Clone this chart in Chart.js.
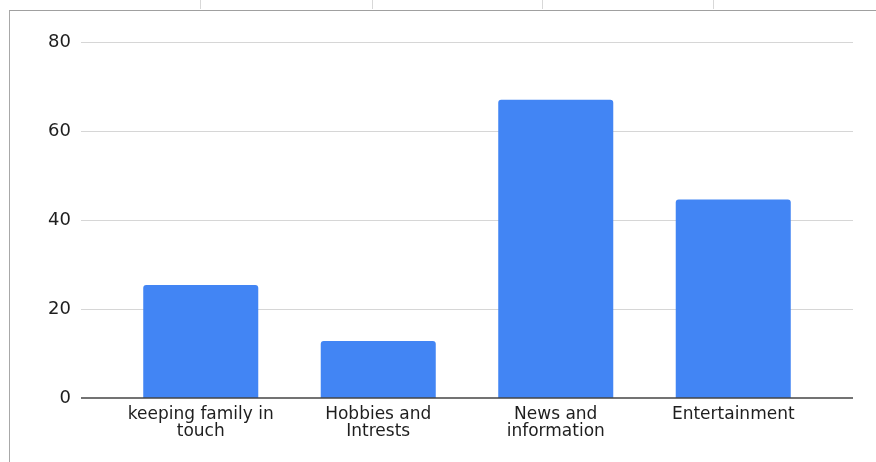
<!DOCTYPE html>
<html>
<head>
<meta charset="utf-8">
<script src="https://cdn.jsdelivr.net/npm/chart.js@4/dist/chart.umd.min.js"></script>
<style>
  html, body { margin: 0; padding: 0; background: #fff; }
  #wrap { position: relative; width: 876px; height: 462px; overflow: hidden; }
  #frame { position: absolute; left: 9px; top: 10px; width: 880px; height: 460px;
           border-left: 1.5px solid #a8a8a8; border-top: 1.5px solid #a0a0a0; }
  .col { position: absolute; top: 0; width: 1px; height: 9px; background: #d8d8d8; }
  canvas { position: absolute; left: 0; top: 0; }
</style>
</head>
<body>
<div id="wrap">
  <div id="frame"></div>
  <div class="col" style="left:200px"></div>
  <div class="col" style="left:372px"></div>
  <div class="col" style="left:542px"></div>
  <div class="col" style="left:713px"></div>
  <canvas id="c" width="876" height="462"></canvas>
</div>
<script>
// ---- data ----
const categories = [
  ['keeping family in', 'touch'],
  ['Hobbies and', 'Intrests'],
  ['News and', 'information'],
  ['Entertainment']
];
const values = [25.4, 12.8, 67, 44.6];
const yTicks = [0, 20, 40, 60, 80];

const gridPlugin = {
  id: 'extGrid',
  beforeDatasetsDraw(chart) {
    const {ctx, chartArea, scales} = chart;
    const ext = 31;
    ctx.save();
    ctx.strokeStyle = '#d6d6d6';
    ctx.lineWidth = 1;
    yTicks.forEach(v => {
      if (v === 0) return;
      const y = Math.round(scales.y.getPixelForValue(v)) + 0.5;
      ctx.beginPath();
      ctx.moveTo(chartArea.left - ext, y);
      ctx.lineTo(chartArea.right + ext, y);
      ctx.stroke();
    });
    ctx.restore();
  },
  afterDatasetsDraw(chart) {
    const {ctx, chartArea, scales} = chart;
    const ext = 31;
    const y = Math.round(scales.y.getPixelForValue(0));
    ctx.save();
    ctx.strokeStyle = '#444';
    ctx.lineWidth = 1.5;
    ctx.beginPath();
    ctx.moveTo(chartArea.left - ext, y);
    ctx.lineTo(chartArea.right + ext, y);
    ctx.stroke();
    ctx.restore();
  }
};

new Chart(document.getElementById('c'), {
  type: 'bar',
  data: {
    labels: categories,
    datasets: [{
      data: values,
      backgroundColor: '#4285F4',
      borderWidth: 0,
      borderRadius: {topLeft: 3, topRight: 3, bottomLeft: 0, bottomRight: 0},
      borderSkipped: 'bottom',
      barPercentage: 0.648,
      categoryPercentage: 1.0
    }]
  },
  options: {
    responsive: false,
    animation: false,
    devicePixelRatio: 1,
    layout: { autoPadding: false, padding: { left: 0, right: 54, top: 42, bottom: 0 } },
    plugins: { legend: { display: false }, tooltip: { enabled: false } },
    scales: {
      x: {
        grid: { display: false, drawTicks: false },
        border: { display: false },
        ticks: {
          color: '#1e1e1e',
          padding: 8,
          maxRotation: 0,
          autoSkip: false,
          font: { family: 'DejaVu Sans', size: 17, lineHeight: 1.0 }
        },
        afterFit(scale) { scale.height = 64; }
      },
      y: {
        min: 0,
        max: 80,
        afterBuildTicks(scale) { scale.ticks = yTicks.map(v => ({ value: v })); },
        grid: { display: false, drawTicks: false },
        border: { display: false },
        ticks: {
          color: '#1e1e1e',
          padding: 41,
          font: { family: 'DejaVu Sans', size: 18 }
        },
        afterFit(scale) { scale.width = 112; scale.paddingTop = 0; scale.paddingBottom = 0; }
      }
    }
  },
  plugins: [gridPlugin]
});
</script>
</body>
</html>
